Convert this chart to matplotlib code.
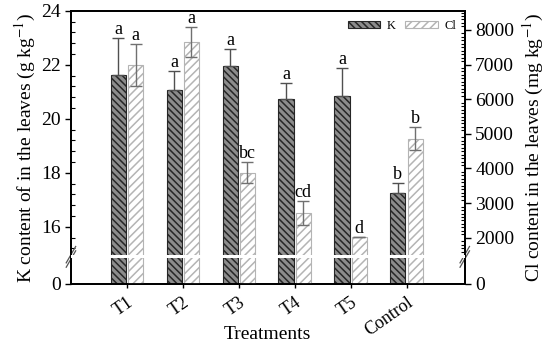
import matplotlib.pyplot as plt
import matplotlib.transforms as mtransforms
from matplotlib.patches import Patch
import numpy as np

plt.rcParams["font.family"] = ["Liberation Serif", "DejaVu Serif"]
plt.rcParams["hatch.linewidth"] = 1.1
plt.rcParams["mathtext.fontset"] = "stix"

treatments = ["T1", "T2", "T3", "T4", "T5", "Control"]
k_content = [21.63, 21.07, 21.96, 20.74, 20.85, 17.26]
k_err = [1.37, 0.71, 0.63, 0.59, 1.04, 0.37]
k_letters = ["a", "a", "a", "a", "a", "b"]
cl_content = [6990, 7654, 3875, 2722, 2030, 4856]
cl_err = [600, 430, 300, 340, 0, 330]
cl_letters = ["a", "a", "bc", "cd", "d", "b"]

# axis "0" sits below a break; these are the data values drawn at the bottom
K_BOTTOM, K_TOP = 13.89, 24.0
CL_BOTTOM, CL_TOP = 672, 8548
K_BREAK = 14.89

fig = plt.figure(figsize=(5.5, 3.5), dpi=100)
ax = fig.add_axes([0.129, 0.189, 0.716, 0.78])
ax2 = ax.twinx()

x = np.arange(1, len(treatments) + 1)
w = 0.27
off = 0.155

ax.bar(x - off, np.array(k_content) - K_BOTTOM, w, bottom=K_BOTTOM,
       facecolor="#8c8c8c", edgecolor="#262626", hatch="\\\\\\\\\\",
       linewidth=0.8, zorder=2)
ax.errorbar(x - off, k_content, yerr=[np.zeros(len(k_err)), k_err],
            fmt="none", ecolor="#505050", elinewidth=1.0, capsize=4,
            capthick=1.0, zorder=3)

ax2.bar(x + off, np.array(cl_content) - CL_BOTTOM, w, bottom=CL_BOTTOM,
        facecolor="white", edgecolor="#b4b4b4", hatch="////",
        linewidth=0.8, zorder=2)
ax2.errorbar(x + off, cl_content, yerr=cl_err, fmt="none", ecolor="#707070",
             elinewidth=1.0, capsize=4, capthick=1.0, zorder=3)

for xi, v, e, lab in zip(x - off, k_content, k_err, k_letters):
    ax.text(xi, v + e, lab, ha="center", va="bottom", fontsize=13)
for xi, v, e, lab in zip(x + off, cl_content, cl_err, cl_letters):
    ax2.text(xi, v + e, lab, ha="center", va="bottom", fontsize=13)

# white gap across the bars at the axis break
trans = mtransforms.blended_transform_factory(ax2.transAxes, ax.transData)
ax2.add_patch(plt.Rectangle((0, K_BREAK - 0.05), 1, 0.1, transform=trans,
                            facecolor="white", edgecolor="none", zorder=6))

ax.set_xlim(0, 7.04)
ax.set_ylim(K_BOTTOM, K_TOP)
ax2.set_ylim(CL_BOTTOM, CL_TOP)

ax.set_xticks(x)
ax.set_xticklabels(treatments, rotation=35, ha="right",
                   rotation_mode="anchor", fontsize=13)
ax.set_yticks([K_BOTTOM, 16, 18, 20, 22, 24])
ax.set_yticklabels(["0", "16", "18", "20", "22", "24"], fontsize=14)
ax.set_yticks(np.arange(15.2, 24, 0.4), minor=True)
ax2.set_yticks([CL_BOTTOM, 2000, 3000, 4000, 5000, 6000, 7000, 8000])
ax2.set_yticklabels(["0", "2000", "3000", "4000", "5000", "6000", "7000",
                     "8000"], fontsize=14)
ax2.set_yticks(np.arange(1600, 8550, 100), minor=True)

ax.tick_params(axis="y", which="major", direction="out", length=4, width=1)
ax.tick_params(axis="y", which="minor", direction="in", length=3, width=0.8)
ax.tick_params(axis="x", direction="out", length=3, width=1, pad=4)
ax.tick_params(right=False, top=False)
ax2.tick_params(axis="y", which="major", direction="out", length=4, width=1)
ax2.tick_params(axis="y", which="minor", direction="in", length=3, width=0.8)

for a in (ax, ax2):
    for s in a.spines.values():
        s.set_linewidth(1.3)

ax.set_xlabel("Treatments", fontsize=14)
ax.xaxis.set_label_coords(0.5, -0.155)
ax.set_ylabel(r"K content of in the leaves (g kg$^{-1}$)", fontsize=14,
              labelpad=2)
ax2.set_ylabel(r"Cl content in the leaves (mg kg$^{-1}$)", fontsize=14,
               labelpad=5)

# break marks on both spines
yb = (K_BREAK - K_BOTTOM) / (K_TOP - K_BOTTOM)
dx, dy = 0.012, 0.03
for xs in (0.0, 1.0):
    for shift in (-0.008, 0.008):
        ax.plot([xs - dx, xs + dx], [yb - dy + shift, yb + dy + shift],
                transform=ax.transAxes, color="#555555", lw=0.9,
                clip_on=False, zorder=10)

handles = [
    Patch(facecolor="#8c8c8c", edgecolor="#262626", hatch="\\\\\\\\\\",
          linewidth=0.8, label="K"),
    Patch(facecolor="white", edgecolor="#b4b4b4", hatch="////",
          linewidth=0.8, label="Cl"),
]
ax2.legend(handles=handles, loc="upper right", ncol=2, frameon=False,
           fontsize=9, handlelength=2.6, handleheight=0.5, columnspacing=0.8,
           handletextpad=0.5, borderaxespad=0.3)

fig.savefig("out.png", dpi=100)
